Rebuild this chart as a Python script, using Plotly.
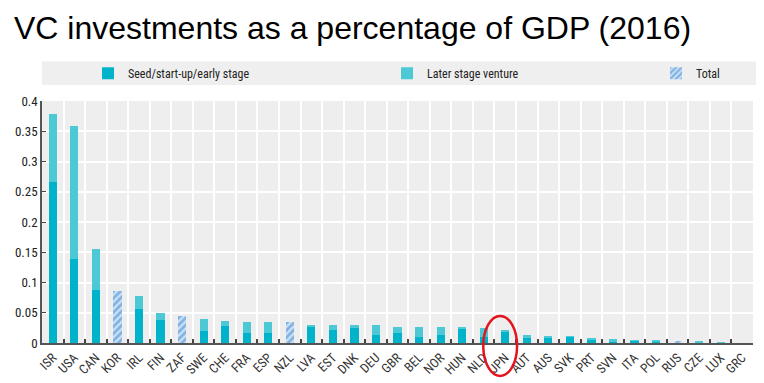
import plotly.graph_objects as go

countries = ["ISR", "USA", "CAN", "KOR", "IRL", "FIN", "ZAF", "SWE", "CHE", "FRA",
             "ESP", "NZL", "LVA", "EST", "DNK", "DEU", "GBR", "BEL", "NOR", "HUN",
             "NLD", "JPN", "AUT", "AUS", "SVK", "PRT", "SVN", "ITA", "POL", "RUS",
             "CZE", "LUX", "GRC"]

seed_early = [0.266, 0.1395, 0.087, None, 0.056, 0.038, None, 0.020, 0.028, 0.0165,
              0.016, None, 0.028, 0.022, 0.0244, 0.0127, 0.0172, 0.0094, 0.0127, 0.0238,
              0.0105, 0.0178, 0.0078, 0.0078, 0.0105, 0.0055, 0.001, 0.0033, 0.003, None,
              0.0012, 0.0008, 0.0]

later_stage = [0.112, 0.2195, 0.068, None, 0.021, 0.0115, None, 0.020, 0.0087, 0.019,
               0.019, None, 0.0025, 0.0085, 0.005, 0.0163, 0.010, 0.0173, 0.014, 0.0032,
               0.015, 0.0039, 0.0055, 0.0044, 0.0005, 0.0012, 0.005, 0.0005, 0.0008, None,
               0.0005, 0.0004, 0.0]

total_only = [None, None, None, 0.086, None, None, 0.044, None, None, None,
              None, 0.034, None, None, None, None, None, None, None, None,
              None, None, None, None, None, None, None, None, None, 0.0027,
              None, None, None]

y_ticks = [0, 0.05, 0.1, 0.15, 0.2, 0.25, 0.3, 0.35, 0.4]
y_tick_labels = ["0", "0.05", "0.1", "0.15", "0.2", "0.25", "0.3", "0.35", "0.4"]

title_text = "VC investments as a percentage of GDP (2016)"
highlight = "JPN"

SEED_C = "#00B2CA"
LATER_C = "#4CC9D5"
TOTAL_C = "#2F84D3"
NARROW = "Liberation Sans Narrow, Arial Narrow, Roboto Condensed, Liberation Sans, Arial, sans-serif"

# page body has an 8px margin: figure is 756x375 drawn at (8, 8)
W, H = 756, 375
L, R, T, B = 34, 11, 93, 40
PW = W - L - R

fig = go.Figure()
fig.add_trace(go.Bar(x=countries, y=seed_early, name="Seed/start-up/early stage",
                     legend="legend",
                     marker=dict(color=SEED_C, line=dict(width=0))))
fig.add_trace(go.Bar(x=countries, y=later_stage, name="Later stage venture",
                     legend="legend2",
                     marker=dict(color=LATER_C, line=dict(width=0))))
fig.add_trace(go.Bar(x=countries, y=total_only, name="Total",
                     legend="legend3",
                     marker=dict(color=TOTAL_C, line=dict(width=0),
                                 pattern=dict(shape="/", fgcolor=TOTAL_C, bgcolor="#CFE2F5",
                                              size=5, solidity=0.55))))

hi = countries.index(highlight)
fig.add_shape(type="circle", xref="x", yref="paper",
              x0=hi - 1.02, x1=hi + 0.55, y0=-0.136, y1=0.112,
              line=dict(color="#E3141E", width=2.5), layer="above")

# legend band
fig.add_shape(type="rect", xref="paper", yref="paper", x0=0, x1=(W - L) / PW + 0.01,
              y0=1.066, y1=1.163,
              fillcolor="#EFEFEF", line=dict(width=0), layer="below")

leg_common = dict(orientation="h", xanchor="left", y=1.115, yanchor="middle",
                  bgcolor="rgba(0,0,0,0)", font=dict(family=NARROW, size=12, color="#222"),
                  itemwidth=30, visible=True)

fig.update_layout(
    width=W, height=H,
    margin=dict(l=L, r=R, t=T, b=B, autoexpand=False),
    paper_bgcolor="white", plot_bgcolor="#EEEEEE",
    barmode="stack", bargap=0.62, showlegend=True,
    title=dict(text=title_text, x=6 / W, xanchor="left", y=1 - 9 / H, yanchor="top",
               font=dict(family="Liberation Sans, Arial, sans-serif", size=32, color="#000")),
    legend=dict(x=(88 - 42) / PW, **leg_common),
    legend2=dict(x=(387 - 42) / PW, **leg_common),
    legend3=dict(x=(656 - 42) / PW, **leg_common),
    font=dict(family=NARROW, color="#222"),
)

fig.update_xaxes(type="category", tickson="boundaries", ticks="inside", ticklen=4,
                 tickcolor="#444", tickwidth=1.5, automargin=False,
                 showline=True, linecolor="#555", linewidth=2,
                 showgrid=True, gridcolor="white", gridwidth=1.5,
                 tickangle=-45, tickfont=dict(family=NARROW, size=13, color="#333"))
fig.update_yaxes(range=[0, 0.4], tickmode="array", tickvals=y_ticks, ticktext=y_tick_labels,
                 ticks="inside", ticklen=4, tickcolor="#444", automargin=False,
                 showline=True, linecolor="#555", linewidth=1.5,
                 showgrid=True, gridcolor="white", gridwidth=1.5, zeroline=False,
                 tickfont=dict(family=NARROW, size=13, color="#222"))

fig.write_html("out.html")
